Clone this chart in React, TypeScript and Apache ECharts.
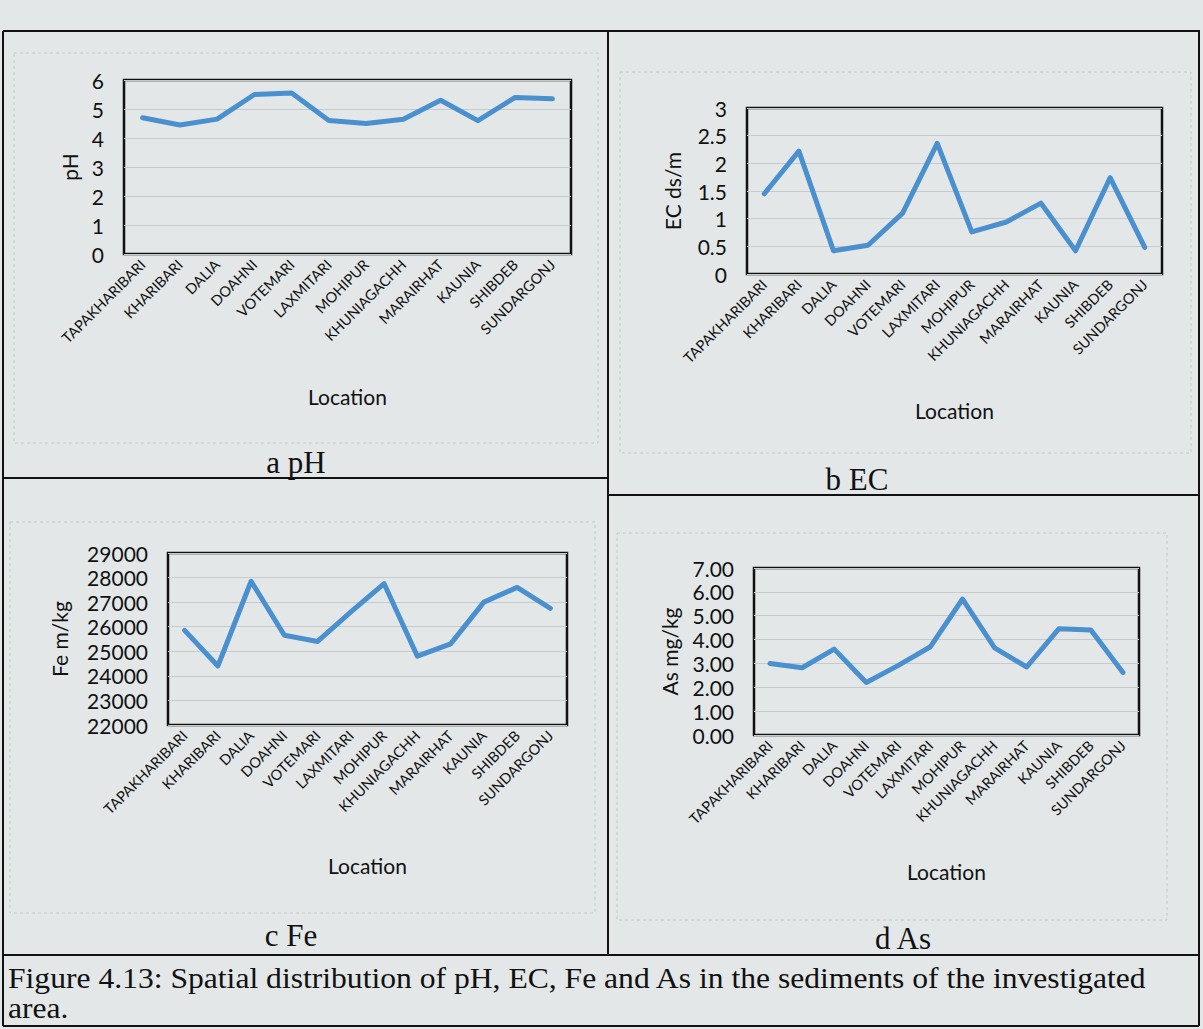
import React, { useEffect, useRef } from "react";
import * as echarts from "echarts";

const locations = [
  "TAPAKHARIBARI", "KHARIBARI", "DALIA", "DOAHNI", "VOTEMARI", "LAXMITARI",
  "MOHIPUR", "KHUNIAGACHH", "MARAIRHAT", "KAUNIA", "SHIBDEB", "SUNDARGONJ",
];
const phValues = [4.7, 4.45, 4.65, 5.5, 5.55, 4.6, 4.5, 4.65, 5.3, 4.6, 5.4, 5.35];
const ecValues = [1.45, 2.22, 0.42, 0.52, 1.1, 2.36, 0.76, 0.94, 1.28, 0.42, 1.74, 0.48];
const feValues = [25850, 24400, 27850, 25650, 25400, 26600, 27750, 24800, 25300, 27000, 27600, 26750];
const asValues = [3.0, 2.82, 3.6, 2.2, 2.92, 3.7, 5.7, 3.65, 2.85, 4.45, 4.4, 2.62];

const panelLabels = ["a pH", "b EC", "c Fe", "d As"];
const yNames = ["pH", "EC ds/m", "Fe m/kg", "As mg/kg"];
const xName = "Location";
const captionLine1 =
  "Figure 4.13: Spatial distribution of pH, EC, Fe and As in the sediments of the investigated";
const captionLine2 = "area.";

const BG = "#e3e7e8";
const LINE_BLUE = "#4a90cf";
const AXIS_FONT = "Lato, 'Open Sans', sans-serif";
const SERIF = "'Liberation Serif', 'DejaVu Serif', serif";

export default function App() {
  const ref = useRef<HTMLDivElement>(null);

  useEffect(() => {
    if (!ref.current) return;
    const chart = echarts.init(ref.current, null, { renderer: "svg" });

    const panels = [
      { grid: { left: 124, top: 80, width: 447, height: 174 }, min: 0, max: 6, interval: 1, nameGap: 44, xGap: 132, fmt: (v: number) => String(v), data: phValues },
      { grid: { left: 747, top: 108, width: 415, height: 166 }, min: 0, max: 3, interval: 0.5, nameGap: 64, xGap: 126, fmt: (v: number) => String(v), data: ecValues },
      { grid: { left: 168, top: 553, width: 399, height: 172 }, min: 22000, max: 29000, interval: 1000, nameGap: 98, xGap: 130, fmt: (v: number) => String(v), data: feValues },
      { grid: { left: 754, top: 568, width: 385, height: 167 }, min: 0, max: 7, interval: 1, nameGap: 74, xGap: 126, fmt: (v: number) => v.toFixed(2), data: asValues },
    ];

    const grids = panels.map((p) => ({
      ...p.grid,
      show: true,
      borderColor: "#111",
      borderWidth: 2.5,
      backgroundColor: "transparent",
      containLabel: false,
    }));

    const xAxes = panels.map((p, i) => ({
      type: "category",
      gridIndex: i,
      data: locations,
      boundaryGap: true,
      axisLine: { show: false },
      axisTick: { show: false },
      axisLabel: {
        rotate: 45,
        interval: 0,
        margin: 8,
        color: "#111",
        fontFamily: AXIS_FONT,
        fontSize: 14.5,
      },
      name: xName,
      nameLocation: "middle",
      nameGap: p.xGap,
      nameTextStyle: { color: "#111", fontFamily: AXIS_FONT, fontSize: 21 },
    }));

    const yAxes = panels.map((p, i) => ({
      type: "value",
      gridIndex: i,
      min: p.min,
      max: p.max,
      interval: p.interval,
      axisLine: { show: false },
      axisTick: { show: false },
      splitLine: { show: true, lineStyle: { color: "#c6cacb", width: 1 } },
      axisLabel: {
        margin: 20,
        color: "#111",
        fontFamily: AXIS_FONT,
        fontSize: 21,
        formatter: p.fmt,
      },
      name: yNames[i],
      nameLocation: "middle",
      nameGap: p.nameGap,
      nameTextStyle: { color: "#111", fontFamily: AXIS_FONT, fontSize: 21 },
    }));

    const series = panels.map((p, i) => ({
      type: "line",
      xAxisIndex: i,
      yAxisIndex: i,
      data: p.data,
      showSymbol: false,
      symbol: "none",
      lineStyle: { color: LINE_BLUE, width: 5, join: "round", cap: "round" },
    }));

    const tableLine = (x1: number, y1: number, x2: number, y2: number) => ({
      type: "line",
      shape: { x1, y1, x2, y2 },
      style: { stroke: "#111", lineWidth: 2 },
      silent: true,
    });
    const faintRect = (x: number, y: number, w: number, h: number) => ({
      type: "rect",
      shape: { x, y, width: w, height: h },
      style: { fill: "none", stroke: "#c4c8c9", lineWidth: 1, lineDash: [3, 3] },
      silent: true,
      z: -1,
    });
    const serifText = (text: string, x: number, y: number, align: string, size: number, sx = 1) => ({
      type: "text",
      x,
      y,
      scaleX: sx,
      style: {
        text,
        fill: "#111",
        font: `${size}px ${SERIF}`,
        textAlign: align,
        textVerticalAlign: "middle",
      },
      silent: true,
    });

    const graphic = [
      faintRect(14, 53, 584, 390),
      faintRect(620, 72, 571, 381),
      faintRect(10, 522, 585, 391),
      faintRect(617, 533, 550, 387),
      tableLine(3, 31, 1200, 31),
      tableLine(3, 31, 3, 1026),
      tableLine(1199, 31, 1199, 1026),
      tableLine(608, 31, 608, 955),
      tableLine(3, 478, 608, 478),
      tableLine(608, 495, 1199, 495),
      tableLine(3, 955, 1199, 955),
      tableLine(3, 1026, 1199, 1026),
      serifText(panelLabels[0], 296, 462, "center", 31),
      serifText(panelLabels[1], 857, 479, "center", 31),
      serifText(panelLabels[2], 291, 935, "center", 31),
      serifText(panelLabels[3], 903, 938, "center", 31),
      serifText(captionLine1, 8, 978, "left", 29, 1.09),
      serifText(captionLine2, 8, 1008, "left", 29, 1.09),
    ];

    chart.setOption({
      animation: false,
      backgroundColor: BG,
      grid: grids,
      xAxis: xAxes,
      yAxis: yAxes,
      series,
      graphic,
    });

    return () => chart.dispose();
  }, []);

  return (
    <div
      ref={ref}
      style={{ position: "absolute", left: 0, top: 0, width: 1203, height: 1029 }}
    />
  );
}
